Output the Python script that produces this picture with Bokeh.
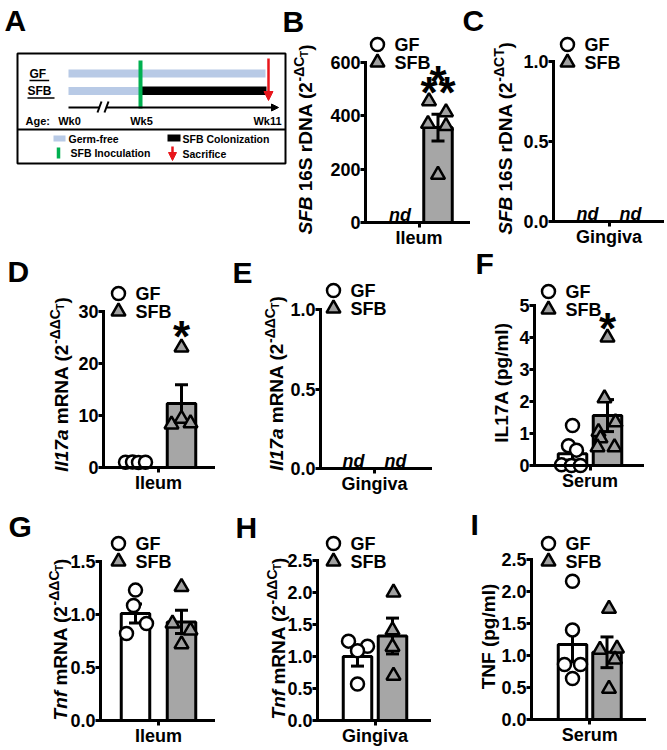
import math
from bokeh.plotting import figure
from bokeh.models import Range1d, LinearAxis, FixedTicker, Label, Arrow, NormalHead
from bokeh.embed import file_html
from bokeh.resources import INLINE
from bokeh.core.properties import value

FONT = "Liberation Sans"

# ---------------- data ----------------
groups = ["GF", "SFB"]
group_x = [-1, 1]

# A: experimental timeline
age_weeks = [0, 5, 11]
age_labels = ["Wk0", "Wk5", "Wk11"]
inoculation_week = 5
sacrifice_week = 11
A_legend_labels = ["Germ-free", "SFB Colonization", "SFB Inoculation", "Sacrifice"]

# B: SFB 16S rDNA, ileum
B_tissue = "Ileum"
B_yticks = [0, 200, 400, 600]
B_ytick_labels = ["0", "200", "400", "600"]
B_gf_points = []
B_sfb_points = [455, 414, 370, 362, 179]
B_means = [None, 356]
B_sems = [None, 50]
B_nd = [True, False]
B_star_y = [519, 519, 560]

# C: SFB 16S rDNA, gingiva
C_tissue = "Gingiva"
C_yticks = [0, 0.5, 1.0]
C_ytick_labels = ["0.0", "0.5", "1.0"]
C_nd = [True, True]

# D: Il17a mRNA, ileum
D_tissue = "Ileum"
D_yticks = [0, 10, 20, 30]
D_ytick_labels = ["0", "10", "20", "30"]
D_gf_points = [1.0, 1.05, 0.95, 1.0]
D_sfb_points = [23.1, 8.3, 9.4, 8.5]
D_means = [1.0, 12.3]
D_sems = [0.05, 3.6]
D_star_y = [26.7]

# E: Il17a mRNA, gingiva
E_tissue = "Gingiva"
E_yticks = [0, 0.5, 1.0]
E_ytick_labels = ["0.0", "0.5", "1.0"]
E_nd = [True, True]

# F: serum IL17A
F_tissue = "Serum"
F_yticks = [0, 1, 2, 3, 4, 5]
F_ytick_labels = ["0", "1", "2", "3", "4", "5"]
F_gf_points = [1.25, 0.62, 0.48, 0.02, 0.0, 0.0]
F_sfb_points = [4.0, 2.1, 1.35, 1.05, 0.85, 0.57, 0.57]
F_means = [0.37, 1.56]
F_sems = [0.2, 0.5]
F_star_y = [4.53]

# G: Tnf mRNA, ileum
G_tissue = "Ileum"
G_yticks = [0, 0.5, 1.0, 1.5]
G_ytick_labels = ["0.0", "0.5", "1.0", "1.5"]
G_gf_points = [1.23, 1.085, 0.82, 0.915]
G_sfb_points = [1.26, 0.915, 0.85, 0.72]
G_means = [1.01, 0.93]
G_sems = [0.09, 0.11]

# H: Tnf mRNA, gingiva
H_tissue = "Gingiva"
H_yticks = [0, 0.5, 1.0, 1.5, 2.0, 2.5]
H_ytick_labels = ["0.0", "0.5", "1.0", "1.5", "2.0", "2.5"]
H_gf_points = [1.24, 1.16, 1.09, 0.57]
H_sfb_points = [2.0, 1.41, 1.15, 0.7]
H_means = [1.0, 1.32]
H_sems = [0.15, 0.28]

# I: serum TNF
I_tissue = "Serum"
I_yticks = [0, 0.5, 1.0, 1.5, 2.0, 2.5]
I_ytick_labels = ["0.0", "0.5", "1.0", "1.5", "2.0", "2.5"]
I_gf_points = [2.16, 1.40, 0.86, 0.86, 0.64]
I_sfb_points = [1.73, 1.09, 1.11, 0.94, 0.48]
I_means = [1.17, 1.05]
I_sems = [0.27, 0.24]

# ---------------- layout / style ----------------
X0, X1, Y0, Y1 = 0, 666, 0, 749
BAR_PX = 28.5
CAP_PX = 6.5
BAR_FILL = ["white", "#a6a6a6"]
TRI_FILL = "#a0a0a0"
STAR_SIZE = 44

W = {' ': 278, '(': 333, ')': 333, '-': 333, '/': 278, '.': 278, ':': 333,
     'A': 722, 'B': 722, 'C': 722, 'D': 722, 'E': 667, 'F': 611, 'G': 778, 'I': 278,
     'L': 611, 'N': 722, 'R': 722, 'S': 667, 'T': 611, 'W': 944,
     'a': 556, 'c': 556, 'd': 611, 'e': 556, 'f': 333, 'g': 611, 'i': 278, 'k': 556,
     'l': 278, 'm': 889, 'n': 611, 'o': 611, 'p': 611, 'r': 389, 's': 556, 't': 333,
     'u': 611, 'v': 556, 'z': 500, '\u0394': 700}
for d in "0123456789":
    W[d] = 556


def tw(t, size):
    return sum(W.get(c, 600) for c in t) * size / 1000.0


p = figure(width=X1 - X0, height=Y1 - Y0, x_range=Range1d(X0, X1), y_range=Range1d(Y1, Y0),
           x_axis_type=None, y_axis_type=None, toolbar_location=None,
           output_backend="svg", min_border=0, title=None)
p.outline_line_color = None


def txt(x, y, t, size, style="bold", align="left", baseline="middle", color="black", **kw):
    p.text(x=x, y=y, text=t, text_font=value(FONT), text_font_size=f"{size}px",
           text_font_style=style, text_align=align, text_baseline=baseline,
           text_color=color, **kw)


def style_axis(a):
    a.axis_line_width = 3
    a.axis_line_color = "black"
    a.axis_line_cap = "square"
    a.major_tick_line_width = 3
    a.major_tick_out = 5
    a.major_tick_in = 0
    a.minor_tick_line_color = None
    a.major_label_text_font = FONT
    a.major_label_text_font_size = "18px"
    a.major_label_text_font_style = "bold"
    a.major_label_text_color = "black"
    a.major_label_standoff = 0


def vlabel(x_base, y_center, parts):
    """Rotated (bottom-to-top) axis title built from pieces of mixed style."""
    total = sum(tw(t, sz) for t, sz, st, sh in parts)
    y = y_center + total / 2.0
    for t, sz, st, sh in parts:
        stripped = t.lstrip(" ")
        y -= tw(t[:len(t) - len(stripped)], sz)
        p.add_layout(Label(x=x_base - sh - 0.36 * sz, y=y, text=stripped, angle=math.pi / 2,
                           text_font=FONT, text_font_size=f"{sz}px", text_font_style=st,
                           text_align="left", text_baseline="middle", text_color="black"))
        y -= tw(stripped, sz)


def ylab_mrna(gene):
    return [(gene, 19, "bold italic", 0), (" mRNA (2", 19, "bold", 0),
            ("-\u0394\u0394C", 14, "bold", 8), ("T", 10, "bold", 4), (")", 19, "bold", 0)]


panels = [
    dict(key="B", letter=("B", 282, 21), tissue=B_tissue, yticks=B_yticks, ylabels=B_ytick_labels,
         points=[B_gf_points, B_sfb_points], means=B_means, sems=B_sems, nd=B_nd,
         stars=B_star_y, star_dx=[-9, 9, 0],
         geom=dict(ax=365, ex=468, tx=418.5, s=19, zy=222, ty=62), jit=[[], [-9, 8, -10, 8, 0]],
         legend=(377, 62), ylab=(312, 139, [("SFB", 19, "bold italic", 0), (" 16S rDNA (2", 19, "bold", 0),
                                          ("-\u0394C", 14, "bold", 8), ("T", 10, "bold", 4), (")", 19, "bold", 0)])),
    dict(key="C", letter=("C", 462, 20), tissue=C_tissue, yticks=C_yticks, ylabels=C_ytick_labels,
         points=[[], []], means=[None, None], sems=[None, None], nd=C_nd, stars=[], star_dx=[],
         geom=dict(ax=553, ex=662, tx=608.5, s=21.5, zy=221, ty=61), jit=[[], []],
         legend=(567, 62), ylab=(512, 138, [("SFB", 19, "bold italic", 0), (" 16S rDNA (2", 19, "bold", 0),
                                          ("-\u0394CT", 14, "bold", 8), (")", 19, "bold", 0)])),
    dict(key="D", letter=("D", 7, 271), tissue=D_tissue, yticks=D_yticks, ylabels=D_ytick_labels,
         points=[D_gf_points, D_sfb_points], means=D_means, sems=D_sems, nd=[False, False],
         stars=D_star_y, star_dx=[0],
         geom=dict(ax=103, ex=213, tx=158, s=23, zy=467, ty=311), jit=[[-10, -3, 3, 10], [0, -10, 0, 9]],
         legend=(118, 311), ylab=(68, 384, ylab_mrna("Il17a"))),
    dict(key="E", letter=("E", 232, 272), tissue=E_tissue, yticks=E_yticks, ylabels=E_ytick_labels,
         points=[[], []], means=[None, None], sems=[None, None], nd=E_nd, stars=[], star_dx=[],
         geom=dict(ax=320, ex=430, tx=374, s=21, zy=468, ty=309), jit=[[], []],
         legend=(333, 308), ylab=(283, 383, ylab_mrna("Il17a"))),
    dict(key="F", letter=("F", 475, 263), tissue=F_tissue, yticks=F_yticks, ylabels=F_ytick_labels,
         points=[F_gf_points, F_sfb_points], means=F_means, sems=F_sems, nd=[False, False],
         stars=F_star_y, star_dx=[0],
         geom=dict(ax=534, ex=642, tx=589.5, s=17.5, zy=465, ty=305),
         jit=[[0, -4, 4, -11, -1, 8], [0, -3, 8, -9, -7, -10, 7]],
         legend=(548, 309), ylab=(508, 382, [("IL17A (pg/ml)", 19, "bold", 0)])),
    dict(key="G", letter=("G", 8, 526), tissue=G_tissue, yticks=G_yticks, ylabels=G_ytick_labels,
         points=[G_gf_points, G_sfb_points], means=G_means, sems=G_sems, nd=[False, False],
         stars=[], star_dx=[],
         geom=dict(ax=100, ex=213, tx=158, s=23, zy=720, ty=561), jit=[[0, -2, -9, 11], [0, -9, 9, 0]],
         legend=(118, 561), ylab=(67, 639, ylab_mrna("Tnf"))),
    dict(key="H", letter=("H", 235, 527), tissue=H_tissue, yticks=H_yticks, ylabels=H_ytick_labels,
         points=[H_gf_points, H_sfb_points], means=H_means, sems=H_sems, nd=[False, False],
         stars=[], star_dx=[],
         geom=dict(ax=317, ex=429, tx=374.5, s=17.5, zy=720, ty=560), jit=[[-9, 10, 0, 0], [1, 0, 0, 1]],
         legend=(333, 561), ylab=(285, 638, ylab_mrna("Tnf"))),
    dict(key="I", letter=("I", 470, 524), tissue=I_tissue, yticks=I_yticks, ylabels=I_ytick_labels,
         points=[I_gf_points, I_sfb_points], means=I_means, sems=I_sems, nd=[False, False],
         stars=[], star_dx=[],
         geom=dict(ax=531, ex=644, tx=589.25, s=17.25, zy=719, ty=559),
         jit=[[0, 0, -8, 8, 0], [2, -7, 10, 8, 2]],
         legend=(548, 561), ylab=(495, 636, [("TNF (pg/ml)", 19, "bold", 0)])),
]


def draw_chart(cfg):
    k = cfg["key"]
    g = cfg["geom"]
    s, tx, zy, ty = g["s"], g["tx"], g["zy"], g["ty"]
    yt = cfg["yticks"]
    top = yt[-1]
    py = (zy - ty) / top
    p.extra_x_ranges[k] = Range1d((X0 - tx) / s, (X1 - tx) / s)
    p.extra_y_ranges[k] = Range1d(-(Y1 - zy) / py, (zy - Y0) / py)
    rk = dict(x_range_name=k, y_range_name=k)
    x_left = (g["ax"] - tx) / s
    x_right = (g["ex"] - tx) / s

    bw = BAR_PX / s
    cw = CAP_PX / s
    for gi in range(2):
        gx = group_x[gi]
        m, e = cfg["means"][gi], cfg["sems"][gi]
        if m is not None:
            p.vbar(x=[gx], top=[m], bottom=0, width=bw, fill_color=BAR_FILL[gi],
                   line_color="black", line_width=3, **rk)
            p.segment(x0=[gx], y0=[m - e], x1=[gx], y1=[m + e], line_color="black", line_width=3, **rk)
            p.segment(x0=[gx - cw] * 2, y0=[m + e, m - e], x1=[gx + cw] * 2, y1=[m + e, m - e],
                      line_color="black", line_width=3, **rk)
    for gi in range(2):
        pts = cfg["points"][gi]
        if not pts:
            continue
        xs = [group_x[gi] + j / s for j in cfg["jit"][gi]]
        if gi == 0:
            p.scatter(x=xs, y=pts, marker="circle", size=13, fill_color="white",
                      line_color="black", line_width=2.5, **rk)
        else:
            p.scatter(x=xs, y=pts, marker="triangle", size=14, fill_color=TRI_FILL,
                      line_color="black", line_width=2.5, **rk)
    for gi in range(2):
        if cfg["nd"][gi]:
            txt([group_x[gi]], [0], ["nd"], 18, style="bold italic", align="center",
                baseline="middle", y_offset=-8, **rk)
    if cfg["stars"]:
        xs = [group_x[1] + d / s for d in cfg["star_dx"]]
        txt(xs, cfg["stars"], ["*"] * len(xs), STAR_SIZE, align="center", baseline="middle",
            y_offset=8, **rk)

    yax = LinearAxis(fixed_location=x_left, bounds=(0, top), ticker=FixedTicker(ticks=yt),
                     major_label_overrides=dict(zip(yt, cfg["ylabels"])), **rk)
    xax = LinearAxis(fixed_location=0, bounds=(x_left, x_right), ticker=FixedTicker(ticks=[0]),
                     major_label_overrides={0: cfg["tissue"]}, **rk)
    style_axis(yax)
    style_axis(xax)
    p.add_layout(yax, "left")
    p.add_layout(xax, "below")

    # legend
    lx, ly = cfg["legend"]
    p.scatter(x=[lx], y=[ly - 18], marker="circle", size=13, fill_color="white",
              line_color="black", line_width=2.5)
    p.scatter(x=[lx], y=[ly], marker="triangle", size=14, fill_color=TRI_FILL,
              line_color="black", line_width=2.5)
    txt([lx + 17, lx + 17], [ly - 18, ly], groups, 18)

    # y label and panel letter
    xb, yc, parts = cfg["ylab"]
    vlabel(xb, yc, parts)
    L, lxp, lyp = cfg["letter"]
    txt([lxp], [lyp], [L], 30)


# ---------------- panel A ----------------
BLUE = "#b8cae6"
GREEN = "#00b050"
RED = "#e8161b"


def wx(w):
    return 69 + w * 14.4 if w <= 5 else 141 + (w - 5) * 21


row_y = {"GF": 73, "SFB": 90.5}
start_x = wx(age_weeks[0]) - 1
end_x = wx(age_weeks[-1])

p.quad(left=[17], right=[285], top=[53], bottom=[163], fill_color=None, line_color="black", line_width=2)
p.segment(x0=[17], y0=[129], x1=[285], y1=[129], line_color="black", line_width=2)

# germ-free periods
p.quad(left=[start_x, start_x], right=[end_x - 2, wx(inoculation_week)],
       top=[row_y["GF"] - 4, row_y["SFB"] - 4], bottom=[row_y["GF"] + 4, row_y["SFB"] + 4],
       fill_color=BLUE, line_color=None)
# colonization
p.quad(left=[wx(inoculation_week)], right=[wx(sacrifice_week) - 1],
       top=[row_y["SFB"] - 4.5], bottom=[row_y["SFB"] + 4], fill_color="black", line_color=None)
# inoculation
p.segment(x0=[wx(inoculation_week) - 1], y0=[60], x1=[wx(inoculation_week) - 1], y1=[108],
          line_color=GREEN, line_width=4)
# sacrifice
p.add_layout(Arrow(end=NormalHead(size=9, fill_color=RED, line_color=RED),
                   x_start=wx(sacrifice_week) + 1, y_start=58, x_end=wx(sacrifice_week) + 1, y_end=100,
                   line_color=RED, line_width=2.5))
# timeline with break
p.segment(x0=[start_x], y0=[107], x1=[99], y1=[107], line_color="black", line_width=2)
p.segment(x0=[97, 104], y0=[112, 112], x1=[101, 108], y1=[101, 101], line_color="black", line_width=2)
p.add_layout(Arrow(end=NormalHead(size=7, fill_color="black", line_color="black"),
                   x_start=106, y_start=107, x_end=wx(sacrifice_week) + 11, y_end=107,
                   line_color="black", line_width=2))
# row labels (underlined)
for name, xl in (("GF", 29), ("SFB", 27)):
    txt([xl], [row_y[name]], [name], 12)
    p.segment(x0=[xl], y0=[row_y[name] + 7], x1=[xl + tw(name, 12) + 3], y1=[row_y[name] + 7],
              line_color="black", line_width=1.3)
# age labels
txt([25], [120], ["Age:"], 11)
txt([wx(w) for w in age_weeks], [120] * len(age_weeks), age_labels, 11, align="center")
# legend
p.quad(left=[53], right=[65], top=[135], bottom=[141], fill_color=BLUE, line_color=None)
p.quad(left=[167], right=[180], top=[134], bottom=[141], fill_color="black", line_color=None)
p.segment(x0=[58], y0=[147], x1=[58], y1=[158], line_color=GREEN, line_width=3.5)
p.add_layout(Arrow(end=NormalHead(size=8, fill_color=RED, line_color=RED),
                   x_start=172, y_start=146, x_end=172, y_end=160, line_color=RED, line_width=2.5))
txt([68, 182, 70, 182], [138, 138, 152, 153], A_legend_labels, 10.5)
txt([4], [19.5], ["A"], 30)

for cfg in panels:
    draw_chart(cfg)

open("out.html", "w").write(file_html(p, INLINE))
